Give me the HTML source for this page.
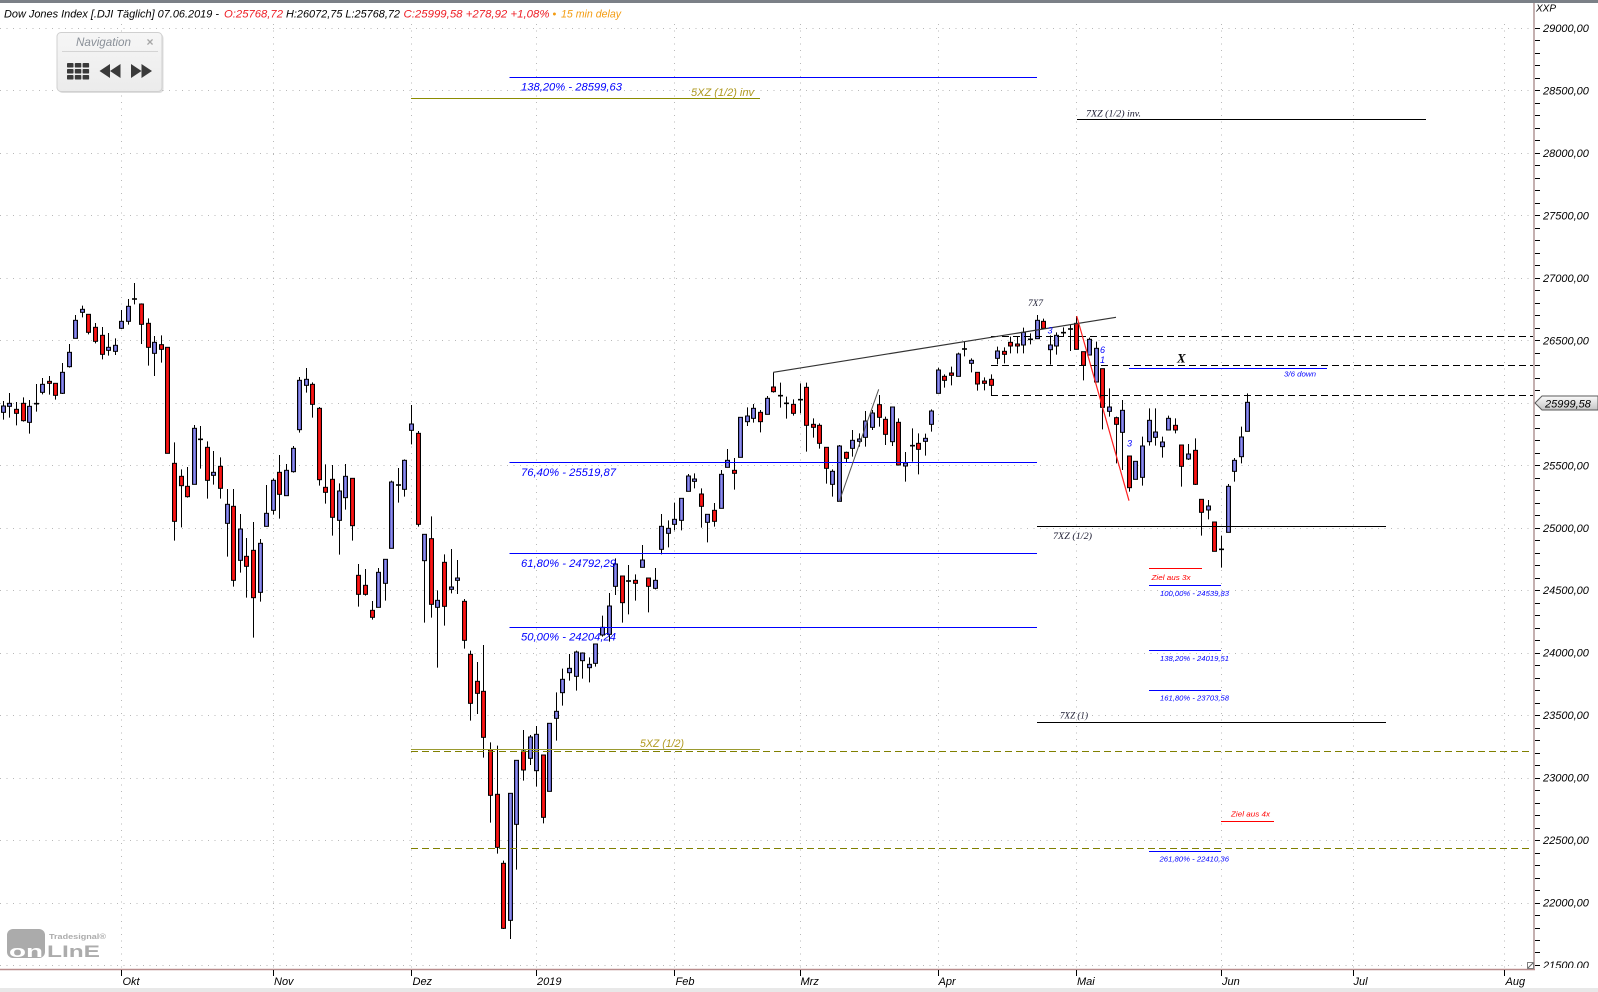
<!DOCTYPE html>
<html><head><meta charset="utf-8">
<style>
html,body{margin:0;padding:0;background:#fff;}
body{width:1598px;height:992px;overflow:hidden;position:relative;}
svg{position:absolute;left:0;top:0;display:block;}
text{font-family:"Liberation Sans",sans-serif;font-style:italic;}
.serif{font-family:"Liberation Serif",serif;}
.up{font-style:normal;}
</style></head><body>
<svg id="c" width="1598" height="992" viewBox="0 0 1598 992" xmlns="http://www.w3.org/2000/svg">
<defs>
<linearGradient id="gb" x1="0" x2="1" y1="0" y2="0"><stop offset="0" stop-color="#3030a4"/><stop offset="0.5" stop-color="#9c9cf2"/><stop offset="1" stop-color="#3030a4"/></linearGradient>
<linearGradient id="gr" x1="0" x2="1" y1="0" y2="0"><stop offset="0" stop-color="#c80000"/><stop offset="0.5" stop-color="#ff1a1a"/><stop offset="1" stop-color="#c80000"/></linearGradient>
<linearGradient id="gp" x1="0" x2="0" y1="0" y2="1"><stop offset="0" stop-color="#fbfbfb"/><stop offset="1" stop-color="#c4c4c4"/></linearGradient>
<linearGradient id="gn" x1="0" x2="0" y1="0" y2="1"><stop offset="0" stop-color="#f6f6f6"/><stop offset="1" stop-color="#ebebeb"/></linearGradient>
<clipPath id="axclip"><rect x="1535" y="0" width="63" height="968"/></clipPath>
</defs>
<rect x="0" y="0" width="1598" height="992" fill="#fff"/>
<rect x="0" y="0" width="1598" height="3" fill="#7b8087"/>
<rect x="0" y="988" width="1598" height="4" fill="#e8e8e8"/>
<g id="grid"></g>
<g id="candles"></g>

<!-- annotation lines -->
<g stroke-width="1" fill="none">
  <line x1="509.5" y1="77.5" x2="1037" y2="77.5" stroke="#0000ff"/>
  <line x1="509.5" y1="462.5" x2="1037" y2="462.5" stroke="#0000ff"/>
  <line x1="509.5" y1="553.5" x2="1037" y2="553.5" stroke="#0000ff"/>
  <line x1="509.5" y1="627.5" x2="1037" y2="627.5" stroke="#0000ff"/>
  <line x1="411" y1="98.5" x2="760" y2="98.5" stroke="#8c8c00"/>
  <line x1="411" y1="749.5" x2="760" y2="749.5" stroke="#9a9a30"/>
  <line x1="411" y1="751.5" x2="1534" y2="751.5" stroke="#808000" stroke-dasharray="7 4"/>
  <line x1="411" y1="848.5" x2="1534" y2="848.5" stroke="#808000" stroke-dasharray="7 4"/>
  <line x1="991" y1="336.5" x2="1534" y2="336.5" stroke="#000" stroke-dasharray="7 4"/>
  <line x1="991" y1="365.5" x2="1534" y2="365.5" stroke="#000" stroke-dasharray="7 4"/>
  <line x1="991" y1="395.5" x2="1534" y2="395.5" stroke="#000" stroke-dasharray="7 4"/>
  <line x1="1077" y1="119.5" x2="1426" y2="119.5" stroke="#000"/>
  <line x1="1037" y1="526.5" x2="1386" y2="526.5" stroke="#000"/>
  <line x1="1037" y1="722.5" x2="1386" y2="722.5" stroke="#000"/>
  <line x1="773.3" y1="372.3" x2="1116" y2="317.3" stroke="#333" stroke-width="1.2"/>
  <line x1="839.3" y1="501.3" x2="878.7" y2="389.3" stroke="#555"/>
  <line x1="1076.7" y1="316" x2="1129" y2="500.7" stroke="#ff2020" stroke-width="1.2"/>
  <line x1="1129" y1="368.5" x2="1327" y2="368.5" stroke="#0000ff"/>
  <line x1="1149" y1="568.5" x2="1202" y2="568.5" stroke="#ff0000"/>
  <line x1="1149" y1="585.5" x2="1221" y2="585.5" stroke="#0000ff"/>
  <line x1="1149" y1="650.5" x2="1221" y2="650.5" stroke="#0000ff"/>
  <line x1="1149" y1="690.5" x2="1221" y2="690.5" stroke="#0000ff"/>
  <line x1="1149" y1="851.5" x2="1221" y2="851.5" stroke="#0000ff"/>
  <line x1="1221" y1="821.5" x2="1274" y2="821.5" stroke="#ff0000"/>
</g>

<!-- annotation text -->
<g font-size="11">
  <text x="521" y="90.5" fill="#0000ff" textLength="101" lengthAdjust="spacingAndGlyphs">138,20% - 28599,63</text>
  <text x="521" y="476" fill="#0000ff" textLength="95" lengthAdjust="spacingAndGlyphs">76,40% - 25519,87</text>
  <text x="521" y="567" fill="#0000ff" textLength="95" lengthAdjust="spacingAndGlyphs">61,80% - 24792,29</text>
  <text x="521" y="640.5" fill="#0000ff" textLength="95" lengthAdjust="spacingAndGlyphs">50,00% - 24204,24</text>
  <text x="691" y="96" fill="#b09a20" textLength="63" lengthAdjust="spacingAndGlyphs">5XZ (1/2) inv</text>
  <text x="640" y="747" fill="#b09a20" textLength="44" lengthAdjust="spacingAndGlyphs">5XZ (1/2)</text>
</g>
<g font-size="9.5">
  <text class="serif" x="1086" y="116.5" fill="#1a1a30" textLength="55" lengthAdjust="spacingAndGlyphs">7XZ (1/2) inv.</text>
  <text class="serif" x="1053" y="539" fill="#1a1a30" textLength="39" lengthAdjust="spacingAndGlyphs">7XZ (1/2)</text>
  <text class="serif" x="1060" y="718.5" fill="#1a1a30" textLength="28" lengthAdjust="spacingAndGlyphs">7XZ (1)</text>
  <text class="serif" x="1028" y="306" fill="#1a1a30" textLength="15" lengthAdjust="spacingAndGlyphs">7X7</text>
</g>
<text class="serif" x="1177" y="362.5" font-size="13" font-weight="bold" fill="#000">X</text>
<g font-size="9" fill="#0000ff">
  <text x="1047.5" y="333.5">3</text>
  <text x="1100" y="353">6</text>
  <text x="1100" y="363">1</text>
  <text x="1127" y="446.5">3</text>
</g>
<g font-size="7.5">
  <text x="1284" y="376.5" fill="#0000ff" textLength="32" lengthAdjust="spacingAndGlyphs">3/6 down</text>
  <text x="1151.5" y="580" fill="#ff0000" textLength="39" lengthAdjust="spacingAndGlyphs">Ziel aus 3x</text>
  <text x="1231" y="816.5" fill="#ff0000" textLength="39" lengthAdjust="spacingAndGlyphs">Ziel aus 4x</text>
  <text x="1160" y="596" fill="#0000ff" textLength="69" lengthAdjust="spacingAndGlyphs">100,00% - 24539,83</text>
  <text x="1160" y="661" fill="#0000ff" textLength="69" lengthAdjust="spacingAndGlyphs">138,20% - 24019,51</text>
  <text x="1160" y="700.5" fill="#0000ff" textLength="69" lengthAdjust="spacingAndGlyphs">161,80% - 23703,58</text>
  <text x="1159.5" y="861.5" fill="#0000ff" textLength="69.5" lengthAdjust="spacingAndGlyphs">261,80% - 22410,36</text>
</g>

<!-- title -->
<g font-size="11">
  <text x="4" y="17.5" fill="#000" textLength="215" lengthAdjust="spacingAndGlyphs">Dow Jones Index [.DJI Täglich] 07.06.2019 -</text>
  <text x="224" y="17.5" fill="#ee1c24" textLength="59" lengthAdjust="spacingAndGlyphs">O:25768,72</text>
  <text x="286" y="17.5" fill="#000" textLength="114" lengthAdjust="spacingAndGlyphs">H:26072,75 L:25768,72</text>
  <text x="403.5" y="17.5" fill="#ee1c24" textLength="146" lengthAdjust="spacingAndGlyphs">C:25999,58 +278,92 +1,08%</text>
  <text x="552.5" y="17.5" fill="#f39c12" style="font-style:normal">•</text>
  <text x="561" y="17.5" fill="#f39c12" textLength="60" lengthAdjust="spacingAndGlyphs">15 min delay</text>
</g>

<!-- axes -->
<line x1="1534" y1="3" x2="1534" y2="970" stroke="#c4b0b0" stroke-width="2"/>
<line x1="0" y1="969.5" x2="1535" y2="969.5" stroke="#b98c8c" stroke-width="1.5"/>
<g id="axis"></g>
<g font-size="11" fill="#000" clip-path="url(#axclip)">
  <text x="1543" y="32">29000,00</text>
  <text x="1543" y="94.5">28500,00</text>
  <text x="1543" y="157">28000,00</text>
  <text x="1543" y="219.4">27500,00</text>
  <text x="1543" y="282">27000,00</text>
  <text x="1543" y="344.3">26500,00</text>
  <text x="1543" y="469.3">25500,00</text>
  <text x="1543" y="531.8">25000,00</text>
  <text x="1543" y="594.2">24500,00</text>
  <text x="1543" y="656.7">24000,00</text>
  <text x="1543" y="719.1">23500,00</text>
  <text x="1543" y="781.6">23000,00</text>
  <text x="1543" y="844">22500,00</text>
  <text x="1543" y="906.5">22000,00</text>
  <text x="1543" y="969">21500,00</text>
</g>
<text x="1536" y="11.5" font-size="10" fill="#000">XXP</text>
<polygon points="1535,403 1542,396 1598,396 1598,410 1542,410" fill="url(#gp)" stroke="#5a5a5a" stroke-width="1"/>
<text x="1545" y="407.5" font-size="11" fill="#000">25999,58</text>
<rect x="1527.5" y="962.5" width="6" height="6" fill="#fff" stroke="#808080"/>
<line x1="1528" y1="968" x2="1533" y2="963" stroke="#606060"/>
<g font-size="11" fill="#000">
  <text x="122.5" y="985">Okt</text>
  <text x="274" y="985">Nov</text>
  <text x="412.5" y="985">Dez</text>
  <text x="537" y="985">2019</text>
  <text x="675.5" y="985">Feb</text>
  <text x="800.5" y="985">Mrz</text>
  <text x="938.5" y="985">Apr</text>
  <text x="1077" y="985">Mai</text>
  <text x="1222" y="985">Jun</text>
  <text x="1353.5" y="985">Jul</text>
  <text x="1505.5" y="985">Aug</text>
</g>

<!-- navigation panel -->
<rect x="58.5" y="34" width="105" height="59" rx="4" fill="rgba(0,0,0,0.13)"/>
<rect x="57" y="32.5" width="105" height="59" rx="4" fill="url(#gn)" stroke="#d0d0d0"/>
<text x="76" y="46" font-size="12" fill="#8a9098" textLength="55" lengthAdjust="spacingAndGlyphs">Navigation</text>
<text x="146.5" y="46" font-size="12" font-weight="bold" style="font-style:normal" fill="#a6a6a6">×</text>
<line x1="62" y1="51.5" x2="158" y2="51.5" stroke="#d4d4d4"/>
<g fill="#3a3a3a">
  <rect x="67" y="63" width="6.5" height="4.5" rx="0.8"/><rect x="74.8" y="63" width="6.5" height="4.5" rx="0.8"/><rect x="82.6" y="63" width="6.5" height="4.5" rx="0.8"/>
  <rect x="67" y="69" width="6.5" height="4.5" rx="0.8"/><rect x="74.8" y="69" width="6.5" height="4.5" rx="0.8"/><rect x="82.6" y="69" width="6.5" height="4.5" rx="0.8"/>
  <rect x="67" y="75" width="6.5" height="4.5" rx="0.8"/><rect x="74.8" y="75" width="6.5" height="4.5" rx="0.8"/><rect x="82.6" y="75" width="6.5" height="4.5" rx="0.8"/>
  <polygon points="110,64 110,78 99.5,71"/><polygon points="120.5,64 120.5,78 110,71"/>
  <polygon points="131,64 131,78 141.5,71"/><polygon points="141.5,64 141.5,78 152,71"/>
</g>

<!-- logo -->
<rect x="7" y="929" width="38" height="29" rx="6" fill="#ababab"/>
<text x="9" y="957" font-size="17" font-weight="bold" style="font-style:normal" fill="#ffffff" textLength="34" lengthAdjust="spacingAndGlyphs">on</text>
<text x="47" y="957" font-size="17" font-weight="bold" style="font-style:normal" fill="#acacac" textLength="53" lengthAdjust="spacingAndGlyphs">LInE</text>
<text x="49" y="939" font-size="7" font-weight="bold" style="font-style:normal" fill="#acacac" textLength="57" lengthAdjust="spacingAndGlyphs">Tradesignal®</text>
</svg>
<script>
(function(){
var NS="http://www.w3.org/2000/svg";
function el(t,a,p){var e=document.createElementNS(NS,t);for(var k in a)e.setAttribute(k,a[k]);p.appendChild(e);return e;}
var grid=document.getElementById('grid');
for(var k=0;k<=15;k++){var y=Math.round(28+k*62.466)+0.5;el('line',{x1:0,x2:1532,y1:y,y2:y,stroke:'#b8b8b8','stroke-dasharray':'1 5.5'},grid);}
var mx=[121.3,273,411.3,536,674.4,799.5,937.5,1075.8,1220.7,1352.6,1504.3];
var ax=document.getElementById('axis');
mx.forEach(function(x){var xx=Math.round(x)+0.5;el('line',{x1:xx,x2:xx,y1:24,y2:968,stroke:'#b8b8b8','stroke-dasharray':'1 5.5'},grid);el('line',{x1:xx,x2:xx,y1:970,y2:976,stroke:'#000'},ax);});
for(var m=0;m<=75;m++){var yy=Math.round(28+m*12.4932)+0.5;el('line',{x1:1535,x2:1540,y1:yy,y2:yy,stroke:'#000'},ax);}
var A=[[408,427,393,449,'b'],[400,409,369,443,'b'],[418,430,396,466,'r'],[400,452,382,455,'r'],[409,457,390,491,'b'],[401,401,342,425,'d'],[343,367,324,373,'b'],[334,340,318,374,'r'],[340,376,340,389,'r'],[307,370,279,372,'b'],[247,290,222,293,'b'],[151,205,135,205,'b'],[118,127,107,142,'b'],[133,187,133,193,'r'],[172,214,159,220,'r'],[196,253,171,268,'r'],[232,241,189,257,'b'],[226,244,205,255,'b'],[154,175,120,177,'b'],[109,154,87,164,'b'],[87,87,39,103,'d'],[102,163,100,222,'r'],[160,232,145,287,'r'],[217,250,198,318,'b'],[224,238,196,278,'r'],[232,550,232,550,'r'],[580,754,517,812,'r'],[619,647,598,772,'r'],[649,680,591,683,'r'],[475,643,465,643,'b'],[508,508,468,596,'d'],[532,631,514,686,'r'],[607,616,543,644,'b'],[589,655,562,686,'r'],[703,760,657,860,'b'],[709,931,657,950,'r'],[777,871,732,908,'b'],[859,889,804,983,'r'],[841,983,756,1103,'r'],[820,967,807,995,'b'],[730,769,645,770,'b'],[631,721,625,734,'b'],[607,673,555,746,'r'],[601,677,582,677,'b'],[535,605,528,608,'b'],[331,479,321,488,'b'],[328,346,294,368,'b'],[343,403,337,443,'r'],[415,629,411,647,'r'],[652,667,583,701,'r'],[628,742,585,797,'r'],[663,751,640,854,'b'],[619,683,582,719,'b'],[625,767,625,812,'r'],[916,973,882,1010,'r'],[946,973,897,977,'r'],[1021,1042,993,1049,'r'],[907,1012,894,1012,'b'],[868,940,868,992,'b'],[636,835,632,835,'b'],[645,645,594,698,'d'],[571,658,568,680,'b'],[462,481,405,523,'b']];
var B=[[-20,253,-27,260,'r'],[283,362,283,548,'b'],[296,493,229,533,'r'],[481,502,451,683,'b'],[367,499,343,557,'r'],[441,448,327,460,'b'],[414,421,360,462,'b'],[484,601,477,626,'r'],[643,790,632,842,'r'],[724,760,666,822,'r'],[754,892,615,953,'r'],[929,1066,907,1148,'r'],[1063,1222,917,1241,'r'],[1270,1465,1262,1467,'r'],[1060,1441,1060,1497,'b'],[961,1153,961,1289,'b'],[933,990,870,1022,'r'],[891,955,885,975,'b'],[883,992,858,1040,'b'],[945,1132,945,1150,'r'],[850,1054,850,1054,'b'],[814,835,757,902,'b'],[718,758,686,797,'b'],[685,698,642,722,'b'],[636,709,632,752,'b'],[639,662,637,716,'b'],[673,683,652,727,'b'],[612,670,612,680,'b'],[562,585,527,590,'b'],[498,583,459,605,'b'],[372,439,355,465,'b'],[408,488,408,548,'r'],[423,423,375,523,'d'],[421,430,403,482,'r'],[360,382,315,382,'b'],[414,439,414,517,'r'],[421,445,384,448,'b'],[259,328,222,343,'b'],[265,280,241,322,'b'],[238,253,188,271,'b'],[175,241,175,271,'b'],[108,154,102,154,'b'],[117,124,100,145,'b']];
var C=[[492,529,475,593,'r'],[553,577,553,637,'b'],[541,574,519,590,'r'],[433,535,420,535,'b'],[391,412,357,412,'b'],[421,430,384,479,'r'],[262,382,262,382,'b'],[258,275,232,288,'b'],[235,265,222,278,'b'],[247,275,240,307,'r'],[205,253,198,253,'b'],[171,185,127,188,'r'],[197,197,158,233,'d'],[220,220,200,266,'d'],[223,250,208,257,'r'],[209,209,160,250,'d'],[172,286,158,365,'r'],[283,292,265,323,'r'],[286,340,280,356,'r'],[352,415,352,461,'r'],[424,463,418,500,'b'],[348,514,345,514,'b'],[367,385,365,397,'r'],[331,355,300,380,'b'],[327,334,310,350,'b'],[273,322,243,350,'b'],[249,292,240,300,'b'],[224,262,195,290,'r'],[268,313,260,345,'r'],[231,335,231,348,'b'],[277,405,265,407,'r'],[399,408,366,455,'b'],[347,347,295,395,'d'],[340,358,310,433,'r'],[325,334,311,377,'b'],[243,283,238,305,'b'],[120,190,113,190,'b'],[139,151,133,173,'r'],[129,136,110,166,'r'],[72,139,68,139,'b'],[57,57,35,79,'d'],[91,100,85,127,'b'],[127,162,127,182,'r']];
var D=[[273,280,262,301,'r'],[268,286,253,316,'r'],[183,205,170,223,'b'],[184,193,172,220,'r'],[157,168,140,190,'r'],[162,168,140,190,'r'],[127,165,113,190,'b'],[148,148,130,163,'d'],[91,146,75,146,'b'],[94,115,86,118,'r'],[165,179,136,224,'b'],[136,168,127,194,'b'],[128,128,112,140,'d'],[117,117,104,183,'d'],[100,178,78,178,'r'],[185,226,185,271,'r'],[148,195,143,195,'b'],[175,276,155,276,'b'],[236,352,236,418,'r'],[351,364,295,380,'b'],[383,403,380,520,'r'],[361,427,330,540,'b'],[498,593,498,605,'r'],[514,568,514,568,'b'],[468,562,440,587,'b'],[391,455,355,467,'b'],[426,442,355,467,'b'],[456,470,440,503,'b'],[385,420,377,420,'b'],[406,420,385,430,'r'],[465,529,465,590,'r'],[492,507,462,510,'b'],[481,583,445,585,'r'],[628,667,628,737,'r'],[648,660,630,688,'b'],[696,784,696,784,'r'],[778,778,737,833,'d'],[589,727,582,727,'b'],[511,544,504,575,'b'],[441,500,410,520,'b'],[337,424,310,424,'b']];
var segs=[[A,270],[B,440],[C,330],[D,290]];
var cg=document.getElementById('candles');
var n=1;
segs.forEach(function(s){
  var y0=s[1];
  s[0].forEach(function(r){
    var i=n-19;var xc=121.3+i*6.585;var cx=Math.round(xc);
    var bt=y0+r[0]/3,bb=y0+r[1]/3,wt=y0+r[2]/3,wb=y0+r[3]/3;
    el('line',{x1:cx+0.5,x2:cx+0.5,y1:wt,y2:wb,stroke:'#000','stroke-width':1},cg);
    if(r[4]==='d'||bb-bt<1.2){
      el('line',{x1:cx-2,x2:cx+3,y1:(bt+bb)/2,y2:(bt+bb)/2,stroke:'#000','stroke-width':1.6},cg);
    } else {
      el('rect',{x:cx-1.5,y:bt,width:4,height:bb-bt,fill:r[4]==='b'?'url(#gb)':'url(#gr)',stroke:'#000','stroke-width':1},cg);
    }
    n++;
  });
});
})();
</script>
</body></html>
